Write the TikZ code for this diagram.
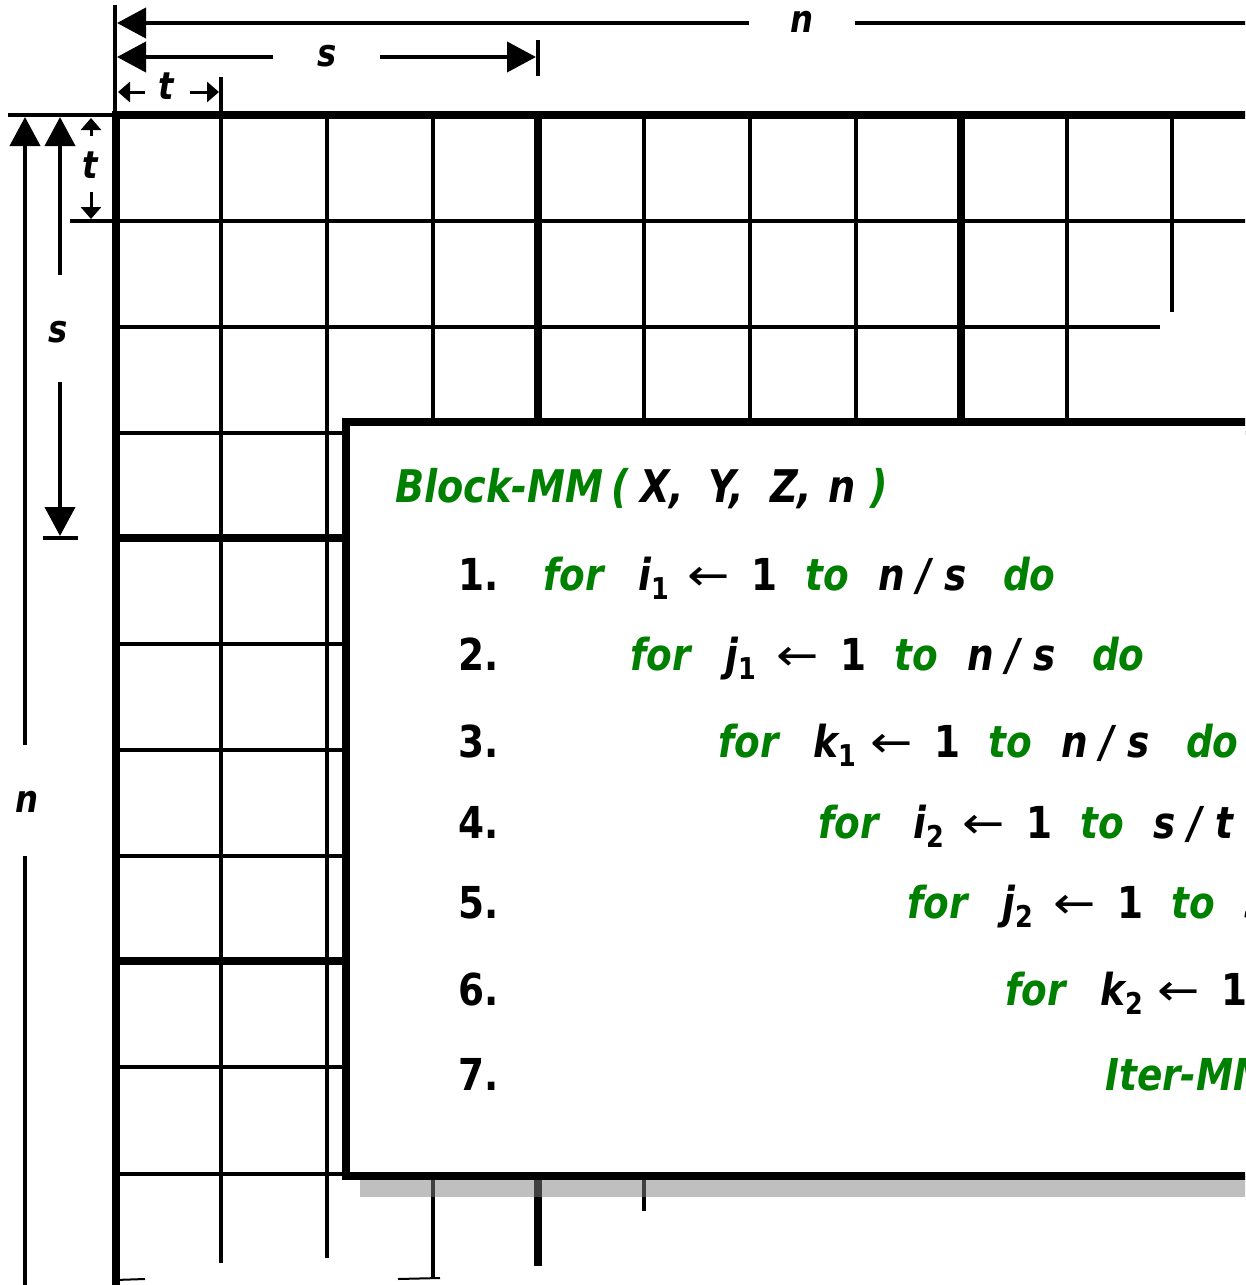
\documentclass[tikz,border=0pt]{standalone}
\usepackage{graphicx}
\usepackage{fontspec}
\setmainfont{DejaVu Sans}[FakeStretch=0.85]
\newfontfamily\arrowfont{DejaVu Sans}
\usetikzlibrary{arrows.meta}
\definecolor{codegreen}{RGB}{0,128,0}
\begin{document}
\begin{tikzpicture}[x=1pt,y=-1pt,
  gridthin/.style={line width=4pt},
  gridthick/.style={line width=8pt},
  dimline/.style={line width=4pt},
  bigtip/.style={-{Triangle[length=29pt,width=30pt]}},
  smalltip/.style={-{Triangle[length=12pt,width=20pt]}},
  dimlabel/.style={font=\fontsize{38}{40}\selectfont\bfseries\itshape, inner sep=0pt, anchor=base},
  codetext/.style={font=\fontsize{44}{48}\selectfont\bfseries\itshape, inner sep=0pt, anchor=base west},
  kw/.style={codetext, text=codegreen},
  titletext/.style={codetext, font=\fontsize{45}{48}\selectfont\bfseries\itshape},
  arrowtext/.style={codetext, font=\arrowfont\fontsize{44}{48}\selectfont},
  boxstyle/.style={draw=black, line width=8pt, fill=white},
  shadowstyle/.style={fill=gray, fill opacity=0.5, draw=none}
]
\useasboundingbox (0,0) rectangle (1245,1285);
\clip (0,0) rectangle (1245,1285);

% ---------------- grid ----------------
% vertical thin lines
\draw[gridthin] (221,77) -- (221,1263);
\draw[gridthin] (327,115) -- (327,1258);
\draw[gridthin] (433,115) -- (433,1278);
\draw[gridthin] (644,115) -- (644,1211);
\draw[gridthin] (750,115) -- (750,1180);
\draw[gridthin] (856,115) -- (856,1180);
\draw[gridthin] (1067,115) -- (1067,1180);
\draw[gridthin] (1172,115) -- (1172,312);
% vertical thick lines
\draw[gridthick] (116,111) -- (116,1290);
\draw[gridthick] (538,115) -- (538,1266);
\draw[gridthick] (961,115) -- (961,1180);
% horizontal thin lines
\draw[gridthin] (115,221) -- (1250,221);
\draw[gridthin] (115,327) -- (1160,327);
\draw[gridthin] (115,433) -- (1250,433);
\draw[gridthin] (115,644) -- (350,644);
\draw[gridthin] (115,750) -- (350,750);
\draw[gridthin] (115,856) -- (350,856);
\draw[gridthin] (115,1067) -- (350,1067);
\draw[gridthin] (115,1174) -- (350,1174);
\draw[line width=2pt] (115,1280) -- (145,1279);
\draw[line width=2pt] (398,1279) -- (440,1278);
% horizontal thick lines
\draw[gridthick] (112,115) -- (1250,115);
\draw[gridthick] (115,538) -- (350,538);
\draw[gridthick] (115,961) -- (350,961);

% ---------------- dimensions ----------------
\coordinate (nTopL) at (117,23);
\coordinate (nTopGapL) at (749,23);
\coordinate (nTopGapR) at (855,23);
\coordinate (nTopR) at (1250,23);
\coordinate (sTopL) at (117,57);
\coordinate (sTopGapL) at (273,57);
\coordinate (sTopGapR) at (380,57);
\coordinate (sTopR) at (536,57);
\coordinate (tTopL) at (118,92);
\coordinate (tTopGapL) at (145,92);
\coordinate (tTopGapR) at (190,92);
\coordinate (tTopR) at (219,92);

\draw[dimline] (115,5) -- (115,112);
\draw[dimline] (538,40) -- (538,76);
\draw[dimline, bigtip] (nTopGapL) -- (nTopL);
\draw[dimline] (nTopGapR) -- (nTopR);
\draw[dimline, bigtip] (sTopGapL) -- (sTopL);
\draw[dimline, bigtip] (sTopGapR) -- (sTopR);
\draw[line width=3pt, smalltip] (tTopGapL) -- (tTopL);
\draw[line width=3pt, smalltip] (tTopGapR) -- (tTopR);

\node[dimlabel] (ntop) at (802,32) {n};
\node[dimlabel] (stop) at (327,66) {s};
\node[dimlabel] (ttop) at (166,99) {t};

\coordinate (nLeftT) at (25,117);
\coordinate (nLeftGapT) at (25,745);
\coordinate (nLeftGapB) at (25,856);
\coordinate (nLeftB) at (25,1290);
\coordinate (sLeftT) at (60,117);
\coordinate (sLeftGapT) at (60,275);
\coordinate (sLeftGapB) at (60,382);
\coordinate (sLeftB) at (60,536);
\coordinate (tLeftT) at (91,118);
\coordinate (tLeftGapT) at (91,136);
\coordinate (tLeftGapB) at (91,192);
\coordinate (tLeftB) at (91,219);

\draw[dimline] (8,115) -- (112,115);
\draw[dimline] (43,538) -- (78,538);
\draw[dimline] (70,221) -- (112,221);
\draw[dimline, bigtip] (nLeftGapT) -- (nLeftT);
\draw[dimline] (nLeftGapB) -- (nLeftB);
\draw[dimline, bigtip] (sLeftGapT) -- (sLeftT);
\draw[dimline, bigtip] (sLeftGapB) -- (sLeftB);
\draw[line width=3pt, smalltip] (tLeftGapT) -- (tLeftT);
\draw[line width=3pt, smalltip] (tLeftGapB) -- (tLeftB);

\node[dimlabel] (nleft) at (27,812) {n};
\node[dimlabel] (sleft) at (58,342) {s};
\node[dimlabel] (tleft) at (90,178) {t};

% ---------------- code box ----------------
\fill[shadowstyle] (360,1176) rectangle (1260,1197);
\draw[boxstyle] (346,422) rectangle (1265,1176);

\node[titletext, text=codegreen] (title) at (395,502) {Block-MM};
\node[titletext, text=codegreen] (tparl) at (611,502) {(};
\node[titletext] (tX) at (640,502) {X,};
\node[titletext] (tY) at (708,502) {Y,};
\node[titletext] (tZ) at (770,502) {Z,};
\node[titletext] (tn) at (828,502) {n};
\node[titletext, text=codegreen] (tparr) at (870,502) {)};

\foreach \n/\fx/\by/\v/\s/\dx/\bound in
  {1/543/590/i/1/0/{n / s}, 2/630/670/j/1/2/{n / s}, 3/718/757/k/1/8/{n / s},
   4/818/838/i/2/0/{s / t}, 5/907/918/j/2/2/{s / t}, 6/1005/1005/k/2/8/{s / t}} {
  \node[codetext] (num\n) at (458,\by) {\upshape\n.};
  \node[kw] (for\n) at (\fx,\by) {for};
  \node[codetext] (var\n) at (\fx+95,\by) {\v\raisebox{-9pt}{\fontsize{30}{30}\selectfont\upshape\s}};
  \node[arrowtext] (arr\n) at (\fx+144+\dx,\by) {\scalebox{1.15}[1]{←}};
  \node[codetext] (one\n) at (\fx+208+\dx,\by) {\upshape 1};
  \node[kw] (to\n) at (\fx+262+\dx,\by) {to};
  \node[codetext] (bnd\n) at (\fx+335+\dx,\by) {\bound};
  \node[kw] (do\n) at (\fx+460+\dx,\by) {do};
}
\node[codetext] (num7) at (458,1090) {\upshape 7.};
\node[kw] (iter) at (1105,1090) {Iter-MM};
\end{tikzpicture}
\end{document}
